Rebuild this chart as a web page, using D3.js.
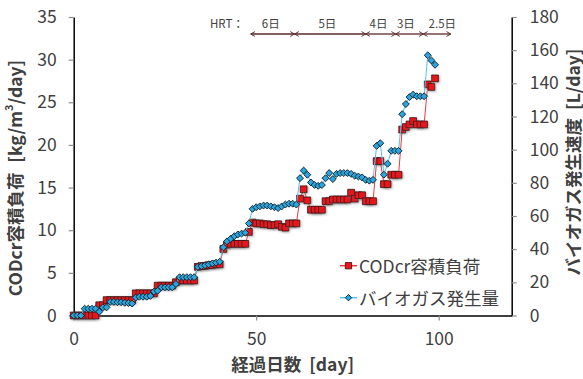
<!DOCTYPE html>
<html><head><meta charset="utf-8">
<script src="https://cdn.jsdelivr.net/npm/d3@7"></script>
<style>
body{margin:0;background:#fff}
svg{display:block}
text{font-family:"Noto Sans CJK JP","Noto Sans",sans-serif;fill:#404040;white-space:pre}
</style>
</head><body>
<svg id="chart" width="583" height="379"></svg>
<script>
// 経過日数 (day)
const days = [0,1,2,3,4,5,6,7,8,9,10,11,12,13,14,15,16,17,18,19,20,21,22,23,24,25,26,27,28,29,
  30,31,32,33,34,35,36,37,38,39,40,41,42,43,44,45,46,47,48,49,50,51,52,53,54,55,56,57,58,59,
  60,61,62,63,64,65,66,67,68,69,70,71,72,73,74,75,76,77,78,79,80,81,82,83,84,85,86,87,88,89,
  90,91,92,93,94,95,96,97,98,99];
// CODcr容積負荷 [kg/m3/day]
const codLoad = [0,0,0,0,0,0,0,1.2,1.2,1.8,1.8,1.8,1.8,1.8,1.8,1.8,1.8,2.6,2.6,2.6,2.6,2.6,2.6,3.5,3.5,3.5,3.5,3.5,3.9,4.1,
  4.1,4.1,4.1,4.1,5.7,5.8,5.8,5.9,5.9,6.0,6.0,7.8,8.3,8.4,8.4,8.4,8.4,8.4,9.8,10.9,10.8,10.8,10.7,10.7,10.6,10.6,10.7,10.4,10.3,10.8,
  10.8,10.8,13.7,14.8,13.5,12.4,12.4,12.4,12.4,13.4,13.4,13.6,13.6,13.6,13.6,13.6,14.4,13.7,14.1,14.1,13.4,13.4,13.4,18.1,18.1,15.4,15.4,16.5,16.5,16.5,
  21.8,22.1,22.4,22.8,22.4,22.4,22.4,27.1,26.8,27.8];
// バイオガス発生速度 [L/day]
const biogas = [0,0,0,4.1,4.1,4.1,4.1,2.3,4.9,4.9,8.2,8.2,8.0,8.0,7.7,7.5,7.2,10.8,11.3,11.3,11.3,11.8,14.4,14.9,17.0,17.0,17.0,17.0,19.0,23.1,
  23.1,23.1,23.1,23.1,29.3,29.8,30.3,30.9,31.4,31.9,32.4,41.1,44.7,46.3,47.8,48.9,49.4,49.9,55.5,64.3,65.3,65.8,66.3,66.3,65.8,65.3,64.8,65.8,66.9,67.4,
  67.4,66.9,82.8,87.4,84.9,80.2,78.7,78.2,78.7,82.8,85.9,82.3,85.4,85.9,85.9,85.9,85.4,84.3,83.8,83.3,81.8,81.3,81.8,102.3,103.9,84.9,91.5,99.3,99.3,99.3,
  121.4,127.5,131.7,133.2,132.2,132.2,132.2,156.9,153.8,151.2];

const xTicks = [0, 50, 100];
const leftTicks = [0, 5, 10, 15, 20, 25, 30, 35];
const rightTicks = [0, 20, 40, 60, 80, 100, 120, 140, 160, 180];

// HRT periods (day ranges) shown as arrows above the plot
const hrtBounds = [48.5, 60.5, 80, 88.2, 95.8, 103.3];
const hrtLabels = ["6日", "5日", "4日", "3日", "2.5日"];
const hrtLabelAt = [54, 69.5, 83.5, 91, 101];

const legendItems = ["CODcr容積負荷", "バイオガス発生量"];

const W = 583, H = 379;
const plot = {left: 73.7, right: 511.7, top: 17, bottom: 315.5};
const svg = d3.select("#chart");

const x = d3.scaleLinear().domain([0, 120]).range([plot.left, plot.right]);
const yL = d3.scaleLinear().domain([0, 35]).range([plot.bottom, plot.top]);
const yR = d3.scaleLinear().domain([0, 180]).range([plot.bottom, plot.top]);

const defs = svg.append("defs");
const sh = defs.append("filter").attr("id", "shadow").attr("x", "-50%").attr("y", "-50%").attr("width", "200%").attr("height", "200%");
sh.append("feDropShadow").attr("dx", 1).attr("dy", 1).attr("stdDeviation", 0.8)
  .attr("flood-color", "#777").attr("flood-opacity", 0.6);
const mk = defs.append("marker").attr("id", "chev").attr("viewBox", "0 0 10 10")
  .attr("refX", 9).attr("refY", 5).attr("markerWidth", 6).attr("markerHeight", 6)
  .attr("orient", "auto-start-reverse").attr("markerUnits", "userSpaceOnUse");
mk.append("path").attr("d", "M2,1 L9,5 L2,9").attr("fill", "none").attr("stroke", "#5a2a2a").attr("stroke-width", 1.6);

const tickFont = "17.5px";

// axes
function styleAxis(g) {
  g.select(".domain").attr("stroke", "#000").attr("stroke-width", 1.5);
  g.selectAll(".tick line").attr("stroke", "#8c8c8c").attr("stroke-width", 1.2);
  g.selectAll(".tick text").style("font-size", tickFont).attr("fill", "#404040");
}
svg.append("g").attr("transform", `translate(${plot.left},0)`)
  .call(d3.axisLeft(yL).tickValues(leftTicks).tickSize(5).tickSizeOuter(0).tickPadding(12))
  .call(styleAxis);
svg.append("g").attr("transform", `translate(${plot.right},0)`)
  .call(d3.axisRight(yR).tickValues(rightTicks).tickSize(5).tickSizeOuter(0).tickPadding(13))
  .call(styleAxis);
svg.append("g").attr("transform", `translate(0,${plot.bottom})`)
  .call(d3.axisBottom(x).tickValues(xTicks).tickSize(5).tickSizeOuter(0).tickPadding(12))
  .call(styleAxis);

// axis titles
svg.append("text")
  .attr("transform", `translate(14,178) rotate(-90)`)
  .attr("text-anchor", "middle").attr("dominant-baseline", "central")
  .style("font-size", "17.5px").style("font-weight", "bold").attr("fill", "#262626")
  .html('CODcr容積負荷 <tspan dx="6">[kg/m</tspan><tspan dy="-6" font-size="11px">3</tspan><tspan dy="6">/day]</tspan>');
svg.append("text")
  .attr("transform", `translate(572,162) rotate(-90)`)
  .attr("text-anchor", "middle").attr("dominant-baseline", "central")
  .style("font-size", "17.5px").style("font-weight", "bold").attr("fill", "#262626")
  .text("バイオガス発生速度  [L/day]");
svg.append("text")
  .attr("x", (plot.left + plot.right) / 2).attr("y", 371)
  .attr("text-anchor", "middle")
  .style("font-size", "17.5px").style("font-weight", "bold").attr("fill", "#262626")
  .text("経過日数  [day]");

// series
const codPts = days.map((d, i) => [x(d), yL(codLoad[i])]);
const gasPts = days.map((d, i) => [x(d), yR(biogas[i])]);
const line = d3.line();
const redFill = "#e8191e", redLine = "#f0383c", blueFill = "#2aa6dc", blueLine = "#55c2ec";

svg.append("path").attr("d", line(codPts)).attr("fill", "none").attr("stroke", redLine).attr("stroke-width", 1);
svg.append("g").selectAll("path").data(codPts).join("path")
  .attr("transform", d => `translate(${d[0]},${d[1]})`)
  .attr("d", d3.symbol(d3.symbolSquare, 46)())
  .attr("fill", redFill).attr("stroke", "#3a0808").attr("stroke-width", 0.8)
  .attr("filter", "url(#shadow)");

svg.append("path").attr("d", line(gasPts)).attr("fill", "none").attr("stroke", blueLine).attr("stroke-width", 1);
svg.append("g").selectAll("path").data(gasPts).join("path")
  .attr("transform", d => `translate(${d[0]},${d[1]}) rotate(45)`)
  .attr("d", d3.symbol(d3.symbolSquare, 24)())
  .attr("fill", blueFill).attr("stroke", "#102430").attr("stroke-width", 0.9);

// HRT annotation
svg.append("text").attr("x", 210).attr("y", 28).style("font-size", "11.5px").attr("fill", "#404040").text("HRT：");
const hrtG = svg.append("g");
for (let i = 0; i < hrtLabels.length; i++) {
  hrtG.append("line")
    .attr("x1", x(hrtBounds[i])).attr("x2", x(hrtBounds[i + 1]))
    .attr("y1", 34).attr("y2", 34)
    .attr("stroke", "#5a2a2a").attr("stroke-width", 1.3)
    .attr("marker-start", "url(#chev)").attr("marker-end", "url(#chev)");
  hrtG.append("text").attr("x", x(hrtLabelAt[i])).attr("y", 28)
    .attr("text-anchor", "middle").style("font-size", "11.5px").attr("fill", "#404040")
    .text(hrtLabels[i]);
}

// legend
const lg = svg.append("g");
const legY = [265.7, 297.7];
legendItems.forEach((name, i) => {
  const y = legY[i];
  lg.append("line").attr("x1", 340).attr("x2", 357).attr("y1", y).attr("y2", y)
    .attr("stroke", i === 0 ? redLine : blueLine).attr("stroke-width", 1.5);
  if (i === 0) {
    lg.append("path").attr("transform", `translate(348.5,${y})`)
      .attr("d", d3.symbol(d3.symbolSquare, 40)())
      .attr("fill", redFill).attr("stroke", "#3a0808").attr("stroke-width", 0.8);
  } else {
    lg.append("path").attr("transform", `translate(348.5,${y}) rotate(45)`)
      .attr("d", d3.symbol(d3.symbolSquare, 20)())
      .attr("fill", blueFill).attr("stroke", "#102430").attr("stroke-width", 0.9);
  }
  lg.append("text").attr("x", 359).attr("y", y).attr("dominant-baseline", "central")
    .style("font-size", "17.5px").attr("fill", "#262626").text(name);
});
</script>
</body></html>
